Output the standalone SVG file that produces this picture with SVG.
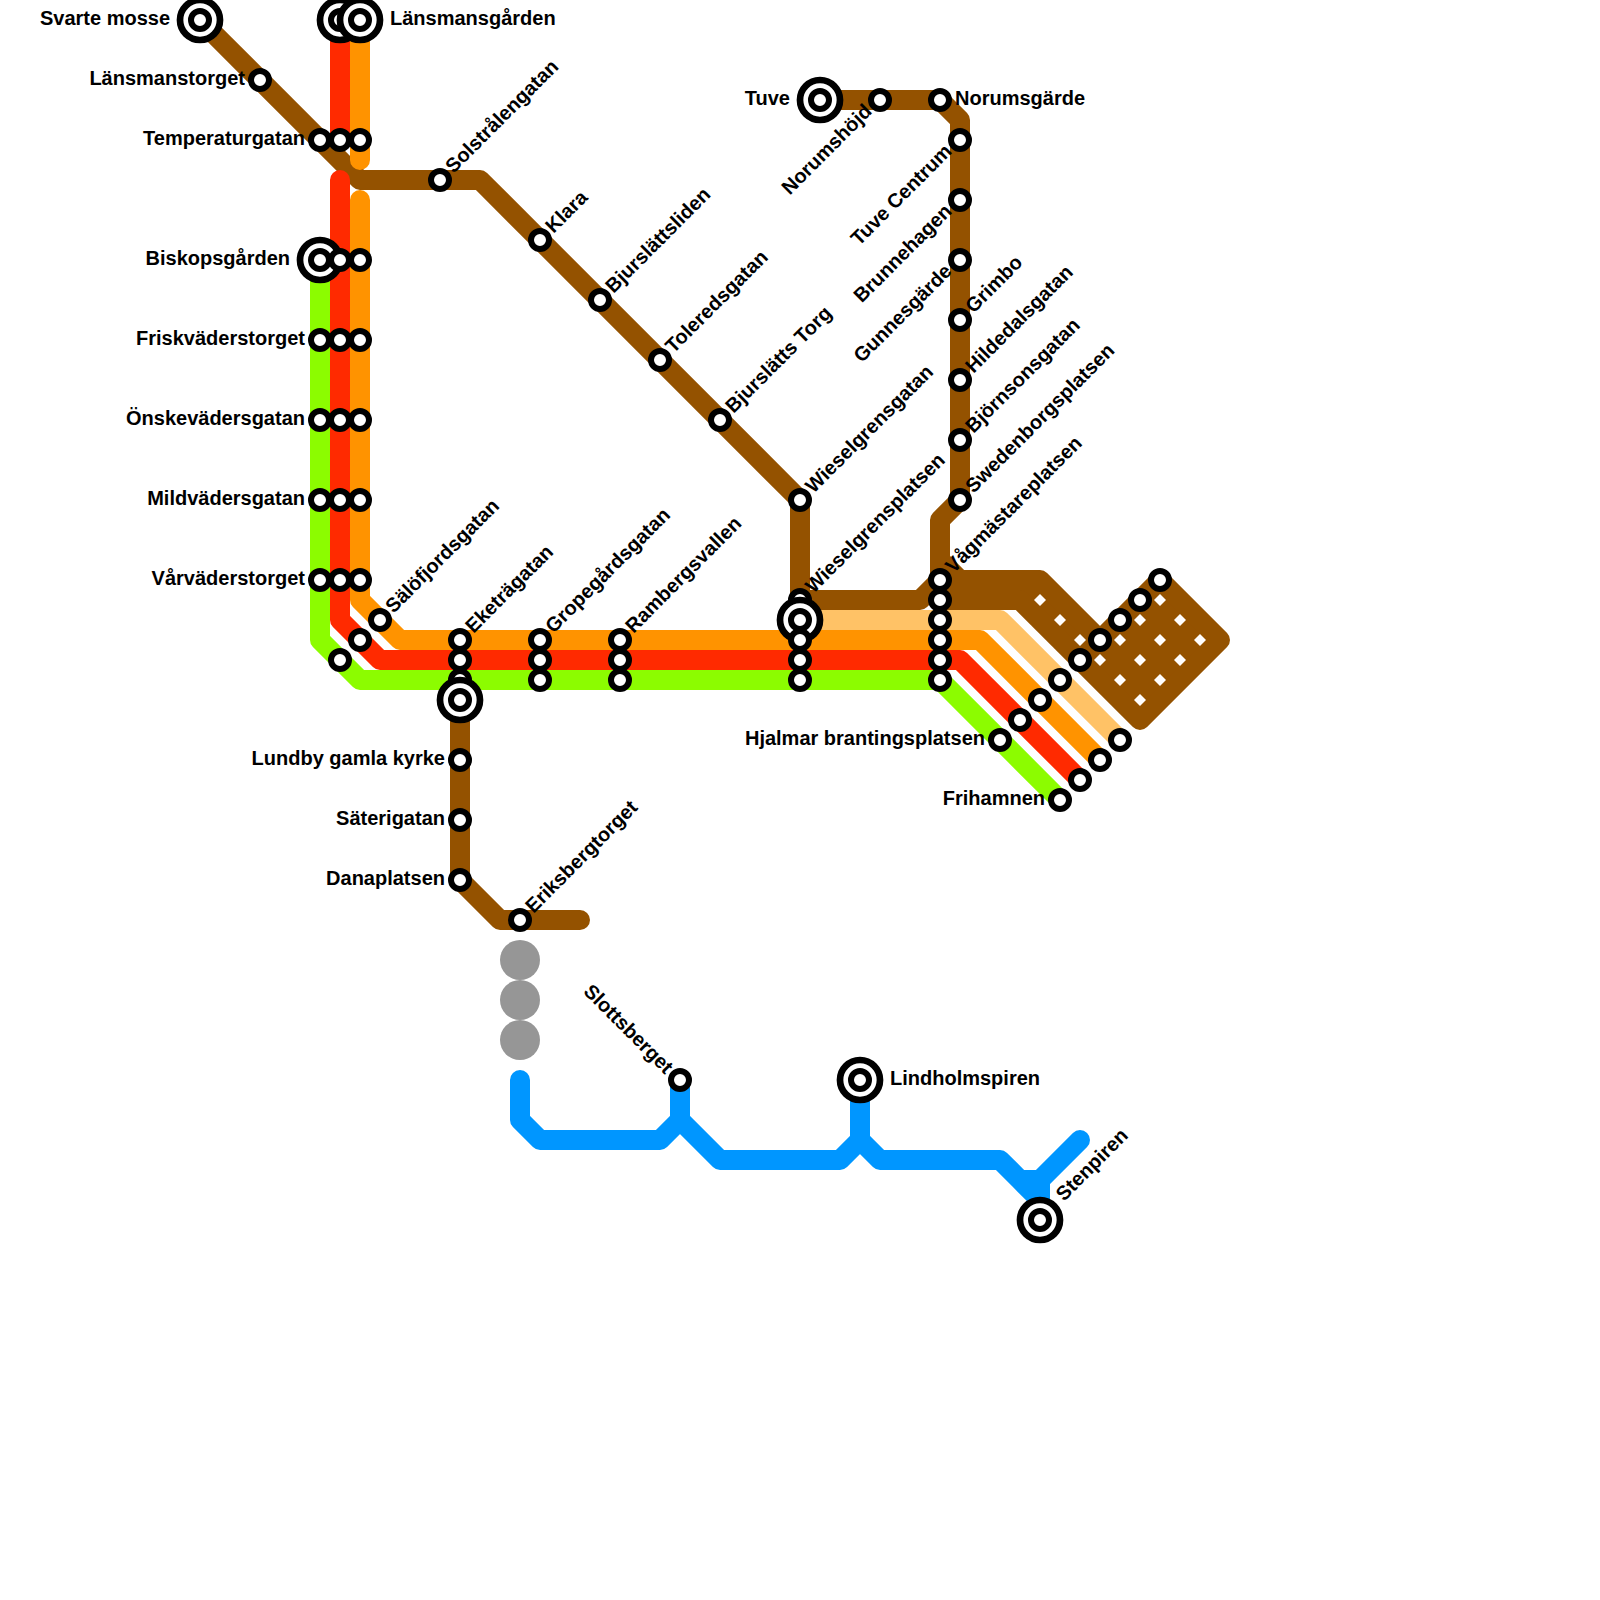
<svg xmlns="http://www.w3.org/2000/svg" width="1600" height="1600" viewBox="0 0 1600 1600">
<style>
.l{fill:none;stroke-width:20;stroke-linecap:round;stroke-linejoin:round}
.br{stroke:#945200}.lo{stroke:#FFC266}.or{stroke:#FF9300}.re{stroke:#FF2A00}.gr{stroke:#8CFC00}.bl{stroke:#0096FF}
.s{fill:#fff;stroke:#000;stroke-width:6}
.t{fill:#fff;stroke:#000;stroke-width:6.7}
.d{fill:#fff}
.g{fill:#969696}
text{font-family:"Liberation Sans",Arial,sans-serif;font-weight:bold;font-size:20px;fill:#000}
.e{text-anchor:end}
</style>
<defs>
<g id="st"><circle class="s" r="9"/></g>
<g id="te"><circle class="t" r="20"/><circle class="s" r="9"/></g>
<path id="di" class="d" d="M0-6L6 0L0 6L-6 0Z"/>
</defs>
<g id="connectors">
<path class="l br" d="M200 20L360 180H480L800 500V600H920L940 580"/>
<path class="l br" d="M820 100H940L960 120V500L940 520V580M940 560L960 580"/>
<path class="l br" style="fill:#945200" d="M940 580H1040L1100 640L1160 580L1220 640L1140 720L1020 600H940Z"/>
<path class="l br" d="M460 700V880L500 920H580"/>
<path class="l lo" d="M800 620H1000L1120 740"/>
<path class="l or" d="M360 20V160M360 200V600L400 640H980L1100 760"/>
<path class="l re" d="M340 20V140M340 180V620L380 660H960L1080 780"/>
<path class="l gr" d="M320 260V640L360 680H940L1060 800"/>
<path class="l bl" d="M520 1080V1120L540 1140H660L680 1120V1080M680 1120L720 1160H840L860 1140V1080M860 1140L880 1160H1000L1020 1180H1040L1080 1140M1020 1180L1040 1200M1040 1180V1220"/>
<g id="pattern">
<use href="#di" x="1040" y="600"/><use href="#di" x="1060" y="620"/><use href="#di" x="1080" y="640"/><use href="#di" x="1100" y="660"/><use href="#di" x="1120" y="680"/><use href="#di" x="1140" y="700"/><use href="#di" x="1120" y="640"/><use href="#di" x="1140" y="620"/><use href="#di" x="1160" y="600"/><use href="#di" x="1140" y="660"/><use href="#di" x="1160" y="640"/><use href="#di" x="1180" y="620"/><use href="#di" x="1160" y="680"/><use href="#di" x="1180" y="660"/><use href="#di" x="1200" y="640"/>
</g>
</g>
<g id="n-gray1"><circle class="g" cx="520" cy="960" r="20"/></g>
<g id="n-gray2"><circle class="g" cx="520" cy="1000" r="20"/></g>
<g id="n-gray3"><circle class="g" cx="520" cy="1040" r="20"/></g>
<g id="n-svarte"><use href="#te" x="200" y="20"/><text class="e" x="170" y="25">Svarte mosse</text></g>
<g id="n-lansmanstorget"><use href="#st" x="260" y="80"/><text class="e" x="245" y="85">Länsmanstorget</text></g>
<g id="n-temp"><use href="#st" x="320" y="140"/><use href="#st" x="340" y="140"/><use href="#st" x="360" y="140"/><text class="e" x="305" y="145">Temperaturgatan</text></g>
<g id="n-lansmansgarden"><use href="#te" x="340" y="20"/><use href="#te" x="360" y="20"/><text x="390" y="25">Länsmansgården</text></g>
<g id="n-biskop"><use href="#te" x="320" y="260"/><use href="#st" x="340" y="260"/><use href="#st" x="360" y="260"/><text class="e" x="290" y="265">Biskopsgården</text></g>
<g id="n-frisk"><use href="#st" x="320" y="340"/><use href="#st" x="340" y="340"/><use href="#st" x="360" y="340"/><text class="e" x="305" y="345">Friskväderstorget</text></g>
<g id="n-onske"><use href="#st" x="320" y="420"/><use href="#st" x="340" y="420"/><use href="#st" x="360" y="420"/><text class="e" x="305" y="425">Önskevädersgatan</text></g>
<g id="n-mild"><use href="#st" x="320" y="500"/><use href="#st" x="340" y="500"/><use href="#st" x="360" y="500"/><text class="e" x="305" y="505">Mildvädersgatan</text></g>
<g id="n-var"><use href="#st" x="320" y="580"/><use href="#st" x="340" y="580"/><use href="#st" x="360" y="580"/><text class="e" x="305" y="585">Vårväderstorget</text></g>
<g id="n-salo"><use href="#st" x="380" y="620"/><use href="#st" x="360" y="640"/><use href="#st" x="340" y="660"/><text transform="translate(388.5 609) rotate(-45)" dy="7">Sälöfjordsgatan</text></g>
<g id="n-solstral"><use href="#st" x="440" y="180"/><text transform="translate(448.5 169) rotate(-45)" dy="7">Solstrålengatan</text></g>
<g id="n-klara"><use href="#st" x="540" y="240"/><text transform="translate(548.5 229) rotate(-45)" dy="7">Klara</text></g>
<g id="n-bjursl"><use href="#st" x="600" y="300"/><text transform="translate(608.5 289) rotate(-45)" dy="7">Bjurslättsliden</text></g>
<g id="n-toler"><use href="#st" x="660" y="360"/><text transform="translate(668.5 349) rotate(-45)" dy="7">Toleredsgatan</text></g>
<g id="n-bjurstorg"><use href="#st" x="720" y="420"/><text transform="translate(728.5 409) rotate(-45)" dy="7">Bjurslätts Torg</text></g>
<g id="n-wieselg"><use href="#st" x="800" y="500"/><text transform="translate(808.5 489) rotate(-45)" dy="7">Wieselgrensgatan</text></g>
<g id="n-wieselp"><use href="#st" x="800" y="600"/><use href="#te" x="800" y="620"/><use href="#st" x="800" y="640"/><use href="#st" x="800" y="660"/><use href="#st" x="800" y="680"/><text transform="translate(808.5 589) rotate(-45)" dy="7">Wieselgrensplatsen</text></g>
<g id="n-eket"><use href="#st" x="460" y="640"/><use href="#st" x="460" y="660"/><use href="#st" x="460" y="680"/><use href="#te" x="460" y="700"/><text transform="translate(468.5 629) rotate(-45)" dy="7">Eketrägatan</text></g>
<g id="n-grope"><use href="#st" x="540" y="640"/><use href="#st" x="540" y="660"/><use href="#st" x="540" y="680"/><text transform="translate(548.5 629) rotate(-45)" dy="7">Gropegårdsgatan</text></g>
<g id="n-ramb"><use href="#st" x="620" y="640"/><use href="#st" x="620" y="660"/><use href="#st" x="620" y="680"/><text transform="translate(628.5 629) rotate(-45)" dy="7">Rambergsvallen</text></g>
<g id="n-lundby"><use href="#st" x="460" y="760"/><text class="e" x="445" y="765">Lundby gamla kyrke</text></g>
<g id="n-sater"><use href="#st" x="460" y="820"/><text class="e" x="445" y="825">Säterigatan</text></g>
<g id="n-dana"><use href="#st" x="460" y="880"/><text class="e" x="445" y="885">Danaplatsen</text></g>
<g id="n-eriks"><use href="#st" x="520" y="920"/><text transform="translate(528.5 909) rotate(-45)" dy="7">Eriksbergtorget</text></g>
<g id="n-slott"><use href="#st" x="680" y="1080"/><text class="e" transform="translate(670 1070) rotate(45)" dy="7">Slottsberget</text></g>
<g id="n-lindh"><use href="#te" x="860" y="1080"/><text x="890" y="1085">Lindholmspiren</text></g>
<g id="n-sten"><use href="#te" x="1040" y="1220"/><text transform="translate(1059 1197) rotate(-45)" dy="7">Stenpiren</text></g>
<g id="n-tuve"><use href="#te" x="820" y="100"/><text class="e" x="790" y="105">Tuve</text></g>
<g id="n-norumsh"><use href="#st" x="880" y="100"/><text class="e" transform="translate(868 107.5) rotate(-45)" dy="7">Norumshöjd</text></g>
<g id="n-norumsg"><use href="#st" x="940" y="100"/><text x="955" y="105">Norumsgärde</text></g>
<g id="n-tuvec"><use href="#st" x="960" y="140"/><text class="e" transform="translate(948 147.5) rotate(-45)" dy="7">Tuve Centrum</text></g>
<g id="n-brunne"><use href="#st" x="960" y="200"/><text class="e" transform="translate(948 207.5) rotate(-45)" dy="7">Brunnehagen</text></g>
<g id="n-gunne"><use href="#st" x="960" y="260"/><text class="e" transform="translate(948 267.5) rotate(-45)" dy="7">Gunnesgärde</text></g>
<g id="n-grimbo"><use href="#st" x="960" y="320"/><text transform="translate(968.5 309) rotate(-45)" dy="7">Grimbo</text></g>
<g id="n-hilde"><use href="#st" x="960" y="380"/><text transform="translate(968.5 369) rotate(-45)" dy="7">Hildedalsgatan</text></g>
<g id="n-bjorn"><use href="#st" x="960" y="440"/><text transform="translate(968.5 429) rotate(-45)" dy="7">Björnsonsgatan</text></g>
<g id="n-swed"><use href="#st" x="960" y="500"/><text transform="translate(968.5 489) rotate(-45)" dy="7">Swedenborgsplatsen</text></g>
<g id="n-vag"><use href="#st" x="940" y="580"/><use href="#st" x="940" y="600"/><use href="#st" x="940" y="620"/><use href="#st" x="940" y="640"/><use href="#st" x="940" y="660"/><use href="#st" x="940" y="680"/><text transform="translate(948.5 569) rotate(-45)" dy="7">Vågmästareplatsen</text></g>
<g id="n-hjalmar"><use href="#st" x="1000" y="740"/><use href="#st" x="1020" y="720"/><use href="#st" x="1040" y="700"/><use href="#st" x="1060" y="680"/><use href="#st" x="1080" y="660"/><use href="#st" x="1100" y="640"/><use href="#st" x="1120" y="620"/><use href="#st" x="1140" y="600"/><use href="#st" x="1160" y="580"/><text class="e" x="985" y="745">Hjalmar brantingsplatsen</text></g>
<g id="n-friham"><use href="#st" x="1120" y="740"/><use href="#st" x="1100" y="760"/><use href="#st" x="1080" y="780"/><use href="#st" x="1060" y="800"/><text class="e" x="1045" y="805">Frihamnen</text></g>
</svg>
